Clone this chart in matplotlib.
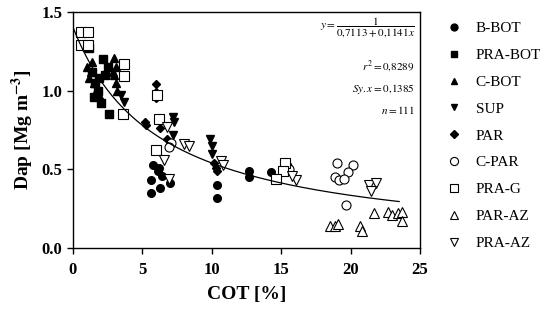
import numpy as np
import matplotlib
matplotlib.use('Agg')
import matplotlib.pyplot as plt

plt.rcParams['font.family'] = ['Liberation Serif', 'DejaVu Serif']
plt.rcParams['mathtext.fontset'] = 'stix'

# series: (COT %, Dap Mg m-3)
b_bot_x = [5.8, 6.1, 6.4, 5.6, 6.3, 5.6, 7.0, 6.2, 10.4, 10.4, 12.7, 12.7, 14.3]
b_bot_y = [0.53, 0.49, 0.46, 0.43, 0.38, 0.35, 0.41, 0.51, 0.40, 0.32, 0.49, 0.45, 0.48]

pra_bot_x = [1.2, 2.2, 2.5, 2.3, 1.6, 1.8, 1.5, 2.0, 2.6, 1.9, 1.4]
pra_bot_y = [1.27, 1.20, 1.15, 1.10, 1.05, 1.00, 0.96, 0.92, 0.85, 1.08, 1.12]

c_bot_x = [1.0, 1.0, 1.3, 1.2, 1.5, 1.7, 1.9, 3.0, 3.1, 3.0, 3.1, 3.2, 2.9, 1.4]
c_bot_y = [1.28, 1.15, 1.12, 1.08, 1.05, 1.00, 0.97, 1.21, 1.15, 1.10, 1.05, 1.00, 1.12, 1.18]

sup_x = [3.5, 3.7, 7.2, 7.3, 7.2, 9.9, 10.0, 10.0]
sup_y = [0.97, 0.93, 0.83, 0.80, 0.72, 0.69, 0.65, 0.60]

par_x = [6.0, 6.0, 6.0, 5.2, 5.3, 6.3, 6.8, 6.0, 10.2, 10.4, 10.3]
par_y = [1.04, 0.99, 0.95, 0.80, 0.78, 0.76, 0.69, 0.62, 0.54, 0.49, 0.51]

c_par_x = [7.1, 6.9, 15.4, 15.6, 19.0, 20.2, 18.9, 19.2, 19.8, 19.5, 19.7]
c_par_y = [0.67, 0.64, 0.52, 0.50, 0.54, 0.53, 0.45, 0.43, 0.48, 0.44, 0.27]

pra_g_x = [0.6, 1.1, 0.6, 1.1, 3.7, 3.7, 3.6, 6.05, 6.2, 6.0, 15.3, 15.1, 14.6]
pra_g_y = [1.37, 1.37, 1.29, 1.29, 1.17, 1.09, 0.85, 0.97, 0.82, 0.62, 0.54, 0.49, 0.44]

par_az_x = [18.5, 18.9, 19.1, 20.7, 20.8, 21.7, 22.7, 23.0, 23.4, 23.7, 23.7]
par_az_y = [0.14, 0.14, 0.15, 0.14, 0.11, 0.22, 0.23, 0.21, 0.22, 0.23, 0.17]

pra_az_x = [6.8, 6.6, 6.9, 8.0, 8.4, 10.7, 10.8, 16.1, 15.8, 21.3, 21.8, 21.5]
pra_az_y = [0.77, 0.56, 0.44, 0.66, 0.65, 0.55, 0.53, 0.43, 0.46, 0.40, 0.41, 0.36]

# fitted model y = 1 / (a + b x)
a, b = 0.7113, 0.1141

fig = plt.figure(figsize=(5.6, 3.15), dpi=100)
ax = fig.add_axes([0.13, 0.213, 0.62, 0.749])

ms = 5.5
ax.plot(b_bot_x, b_bot_y, 'o', color='black', ms=ms, ls='none', label='B-BOT')
ax.plot(pra_bot_x, pra_bot_y, 's', color='black', ms=ms, ls='none', label='PRA-BOT')
ax.plot(c_bot_x, c_bot_y, '^', color='black', ms=ms, ls='none', label='C-BOT')
ax.plot(sup_x, sup_y, 'v', color='black', ms=ms, ls='none', label='SUP')
ax.plot(par_x, par_y, 'D', color='black', ms=ms - 1, ls='none', label='PAR')
ax.plot(c_par_x, c_par_y, 'o', mfc='white', mec='black', mew=0.8, ms=ms + 1, ls='none', label='C-PAR')
ax.plot(pra_g_x, pra_g_y, 's', mfc='white', mec='black', mew=0.8, ms=ms + 1, ls='none', label='PRA-G')
ax.plot(par_az_x, par_az_y, '^', mfc='white', mec='black', mew=0.8, ms=ms + 1, ls='none', label='PAR-AZ')
ax.plot(pra_az_x, pra_az_y, 'v', mfc='white', mec='black', mew=0.8, ms=ms + 1, ls='none', label='PRA-AZ')

xf = np.linspace(0, 23.5, 200)
ax.plot(xf, 1 / (a + b * xf), color='black', lw=0.9)

ax.set_xlim(0, 25)
ax.set_ylim(0, 1.5)
ax.set_xticks([0, 5, 10, 15, 20, 25])
ax.set_yticks([0.0, 0.5, 1.0, 1.5])
ax.set_yticklabels(['0.0', '0.5', '1.0', '1.5'])
ax.tick_params(direction='out', length=4, width=1, labelsize=12)
ax.tick_params(axis='x', pad=6)
for lab in ax.get_xticklabels() + ax.get_yticklabels():
    lab.set_fontweight('bold')
for s in ax.spines.values():
    s.set_linewidth(1)

ax.set_xlabel('COT [%]', fontsize=14, fontweight='bold', labelpad=6)
ax.set_ylabel(r'Dap [Mg m$^{\mathbf{-3}}$]', fontsize=14, fontweight='bold', labelpad=4)

ax.text(0.985, 0.985, r'$y=\dfrac{1}{0{,}7113+0{,}1141x}$', transform=ax.transAxes,
        ha='right', va='top', fontsize=8)
ax.text(0.985, 0.80, r'$r^2=0{,}8289$', transform=ax.transAxes, ha='right', va='top', fontsize=8)
ax.text(0.985, 0.705, r'$Sy.x=0{,}1385$', transform=ax.transAxes, ha='right', va='top', fontsize=8)
ax.text(0.985, 0.61, r'$n=111$', transform=ax.transAxes, ha='right', va='top', fontsize=8)

fig.legend(loc='upper left', bbox_to_anchor=(0.77, 0.975), frameon=False,
           fontsize=11, labelspacing=0.86, handletextpad=0.8, handlelength=1.2,
           markerscale=0.9)

fig.savefig('out.png', dpi=100)
